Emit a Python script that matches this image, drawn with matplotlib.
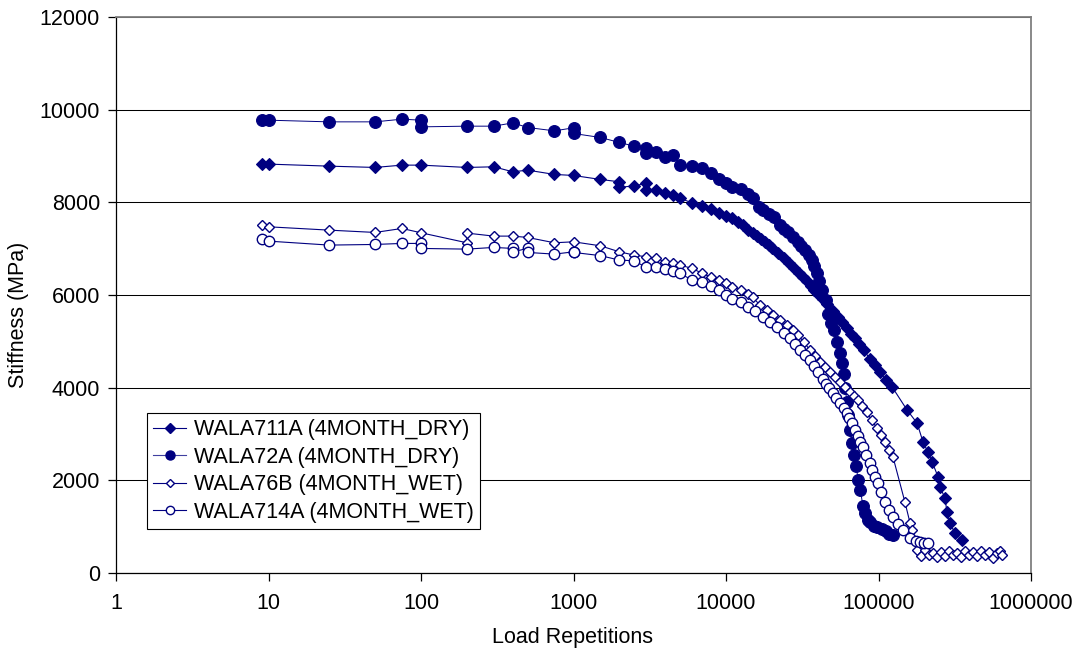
import matplotlib
matplotlib.use("Agg")
import matplotlib.pyplot as plt
from matplotlib.lines import Line2D
from matplotlib.ticker import NullLocator, FixedLocator, FixedFormatter

plt.rcParams['font.family'] = ['Liberation Sans', 'DejaVu Sans']

# ---------------- data ----------------
labels = ["WALA711A (4MONTH_DRY)", "WALA72A (4MONTH_DRY)",
          "WALA76B (4MONTH_WET)", "WALA714A (4MONTH_WET)"]

s1_n = [9, 10, 25, 50, 75, 100, 200, 300, 400, 500, 750, 1000, 1500, 2000, 2000, 2500,
        3000, 3000, 3500, 4000, 4500, 5000, 6000, 7000, 8000, 9000, 10000, 11000,
        12000, 13000, 14000, 15000, 16000, 17000, 18000, 19000, 20000, 22000, 24000,
        26000, 28000, 30000, 32000, 34000, 36000, 38000, 40000, 43000, 46000, 50000,
        54000, 58000, 62000, 66000, 70000, 75000, 80000, 88000, 95000, 102000, 112000,
        123000, 154000, 179000, 196000, 211000, 225000, 246000, 253000, 273000, 281000,
        294000, 317000, 353000]
s1_v = [8818, 8825, 8781, 8753, 8803, 8803, 8753, 8767, 8659, 8695, 8602, 8580, 8494,
        8443, 8322, 8357, 8407, 8263, 8263, 8206, 8155, 8084, 7990, 7918, 7847, 7774,
        7702, 7652, 7573, 7502, 7400, 7336, 7272, 7206, 7140, 7076, 7012, 6904, 6796,
        6688, 6580, 6473, 6386, 6300, 6192, 6106, 6019, 5912, 5804, 5653, 5523, 5415,
        5286, 5156, 5070, 4941, 4811, 4617, 4488, 4337, 4164, 4013, 3517, 3236, 2826,
        2611, 2395, 2071, 1855, 1618, 1316, 1079, 863, 712]

s2_n = [9, 10, 25, 50, 75, 100, 100, 200, 300, 400, 500, 750, 1000, 1000, 1500, 2000,
        2500, 3000, 3000, 3500, 4000, 4500, 5000, 6000, 7000, 8000, 9000, 10000, 11000,
        12500, 14000, 15000, 16500, 17500, 19000, 20500, 22500, 24000, 25500, 27500,
        29500, 31000, 33000, 35000, 36500, 38000, 39500, 41000, 42500, 45000, 47000,
        49000, 51000, 53500, 56000, 57500, 59000, 60500, 62000, 63500, 65000, 67000,
        69000, 71500, 73500, 76000, 79000, 82000, 85000, 88000, 93000, 98000, 105000,
        112000, 118000, 124000]
s2_v = [9773, 9773, 9737, 9737, 9795, 9773, 9629, 9644, 9644, 9715, 9615, 9543, 9608,
        9486, 9400, 9292, 9212, 9176, 9068, 9090, 8982, 9018, 8803, 8781, 8731, 8624,
        8494, 8421, 8335, 8278, 8177, 8084, 7900, 7832, 7750, 7681, 7508, 7430, 7357,
        7250, 7142, 7060, 6964, 6860, 6753, 6620, 6473, 6300, 6106, 5890, 5600, 5400,
        5243, 4984, 4747, 4531, 4300, 4000, 3700, 3400, 3085, 2800, 2550, 2300, 2000,
        1800, 1450, 1300, 1150, 1100, 1020, 1000, 950, 900, 850, 820]

s3_n = [9, 10, 25, 50, 75, 100, 200, 200, 300, 400, 500, 750, 1000, 1500, 2000, 2500,
        3000, 3500, 4000, 4500, 5000, 6000, 7000, 8000, 9000, 10000, 11000, 12500,
        14000, 15000, 16700, 18500, 20300, 22500, 25000, 27500, 29700, 32500, 35500,
        38500, 41300, 44500, 48000, 52000, 56000, 60000, 65000, 69000, 73400, 78000,
        84000, 90000, 97800, 104000, 110000, 117000, 124500, 149000, 161000, 166000,
        179000, 190000, 202000, 214000, 228000, 242000, 257000, 273000, 290000, 308000,
        327000, 348000, 369000, 392000, 417000, 442000, 470000, 499000, 530000, 563000,
        598000, 626000, 645000]
s3_v = [7508, 7472, 7400, 7350, 7436, 7343, 7127, 7336, 7271, 7271, 7242, 7127, 7148,
        7062, 6932, 6861, 6825, 6789, 6717, 6696, 6645, 6573, 6466, 6380, 6321, 6250,
        6177, 6106, 6019, 5948, 5782, 5680, 5566, 5460, 5351, 5240, 5135, 4980, 4811,
        4680, 4552, 4450, 4337, 4230, 4121, 4010, 3905, 3820, 3732, 3600, 3474, 3300,
        3128, 2980, 2826, 2660, 2503, 1532, 1079, 928, 496, 367, 496, 388, 431, 345,
        453, 367, 475, 388, 431, 345, 475, 388, 453, 367, 475, 388, 453, 324, 431, 475,
        388]

s4_n = [9, 10, 25, 50, 75, 100, 100, 200, 300, 400, 400, 500, 500, 750, 1000, 1000,
        1500, 2000, 2500, 3000, 3500, 4000, 4500, 5000, 6000, 7000, 8000, 9000, 10000,
        11000, 12500, 14000, 15500, 17500, 19500, 21600, 24000, 26300, 28500, 30500,
        33000, 35500, 38000, 40000, 43000, 45000, 47500, 50300, 53000, 56000, 59000,
        62000, 64500, 67000, 70000, 73000, 76000, 79000, 83000, 88000, 91000, 95000,
        99000, 104000, 110000, 117000, 124500, 135000, 145000, 161000, 175000, 187000,
        200000, 211000]
s4_v = [7199, 7163, 7077, 7091, 7113, 7113, 7005, 6990, 7027, 7005, 6932, 7005, 6919,
        6882, 6932, 6919, 6850, 6753, 6739, 6595, 6609, 6552, 6523, 6466, 6321, 6285,
        6192, 6106, 5998, 5905, 5853, 5739, 5650, 5523, 5420, 5307, 5190, 5070, 4940,
        4811, 4700, 4595, 4460, 4337, 4180, 4080, 3990, 3884, 3780, 3668, 3560, 3452,
        3340, 3236, 3085, 2950, 2830, 2718, 2550, 2373, 2220, 2071, 1942, 1750, 1532,
        1370, 1208, 1050, 928, 755, 700, 669, 655, 647]

x_ticks = [1, 10, 100, 1000, 10000, 100000, 1000000]
x_tick_labels = ["1", "10", "100", "1000", "10000", "100000", "1000000"]
y_ticks = [0, 2000, 4000, 6000, 8000, 10000, 12000]

# ---------------- figure ----------------
W, H = 1078, 655
fig = plt.figure(figsize=(W / 100, H / 100), dpi=100)
L, R, T, B = 116, 1031, 17, 573
ax = fig.add_axes([L / W, 1 - B / H, (R - L) / W, (B - T) / H])

navy = "#000080"
fs = 15.5

ax.plot(s1_n, s1_v, color=navy, lw=0.8, marker='D', ms=6.3, mfc=navy, mec=navy,
        mew=0.8, zorder=3)
ax.plot(s2_n, s2_v, color=navy, lw=0.7, marker='o', ms=8.5, mfc=navy, mec=navy,
        mew=0.8, zorder=4)
ax.plot(s3_n, s3_v, color=navy, lw=0.8, marker='D', ms=5.4, mfc='white', mec=navy,
        mew=1.0, zorder=5)
ax.plot(s4_n, s4_v, color=navy, lw=0.8, marker='o', ms=7.5, mfc='white', mec=navy,
        mew=1.0, zorder=6)

ax.set_xscale('log')
ax.set_xlim(1, 1e6)
ax.set_ylim(0, 12000)
ax.xaxis.set_major_locator(FixedLocator(x_ticks))
ax.xaxis.set_major_formatter(FixedFormatter(x_tick_labels))
ax.xaxis.set_minor_locator(NullLocator())
ax.set_yticks(y_ticks)
ax.set_yticklabels([str(v) for v in y_ticks])

ax.grid(axis='y', color='black', lw=0.75)
ax.set_axisbelow(True)

for side in ['top', 'right']:
    ax.spines[side].set_color('#808080')
    ax.spines[side].set_linewidth(1.3)
for side in ['left', 'bottom']:
    ax.spines[side].set_color('black')
    ax.spines[side].set_linewidth(0.9)

ax.tick_params(axis='both', direction='out', length=5.5, width=0.9, color='black',
               labelsize=fs, labelcolor='black')
ax.tick_params(axis='y', pad=6)
ax.tick_params(axis='x', pad=9)

fig.text(19 / W, 1 - 315 / H, "Stiffness (MPa)", rotation=90, ha='center', va='center',
         fontsize=fs)
fig.text(573 / W, 1 - 638 / H, "Load Repetitions", ha='center', va='center', fontsize=fs)

handles = [
    Line2D([], [], color=navy, lw=0.8, marker='D', ms=5, mfc=navy, mec=navy),
    Line2D([], [], color='#4040a0', lw=0.8, marker='o', ms=6.5, mfc=navy, mec=navy),
    Line2D([], [], color=navy, lw=0.8, marker='D', ms=4.5, mfc='white', mec=navy, mew=1.0),
    Line2D([], [], color=navy, lw=0.8, marker='o', ms=6, mfc='white', mec=navy, mew=1.0),
]
leg = fig.legend(handles, labels, loc='upper left',
                 bbox_to_anchor=(147 / W, 1 - 413 / H), bbox_transform=fig.transFigure,
                 fontsize=fs, frameon=True, fancybox=False, shadow=False,
                 borderpad=0.3, handlelength=1.5, handletextpad=0.38,
                 labelspacing=0.3, borderaxespad=0.0)
leg.get_frame().set_edgecolor('black')
leg.get_frame().set_linewidth(0.8)
leg.get_frame().set_alpha(1.0)

fig.savefig("out.png", dpi=100)
